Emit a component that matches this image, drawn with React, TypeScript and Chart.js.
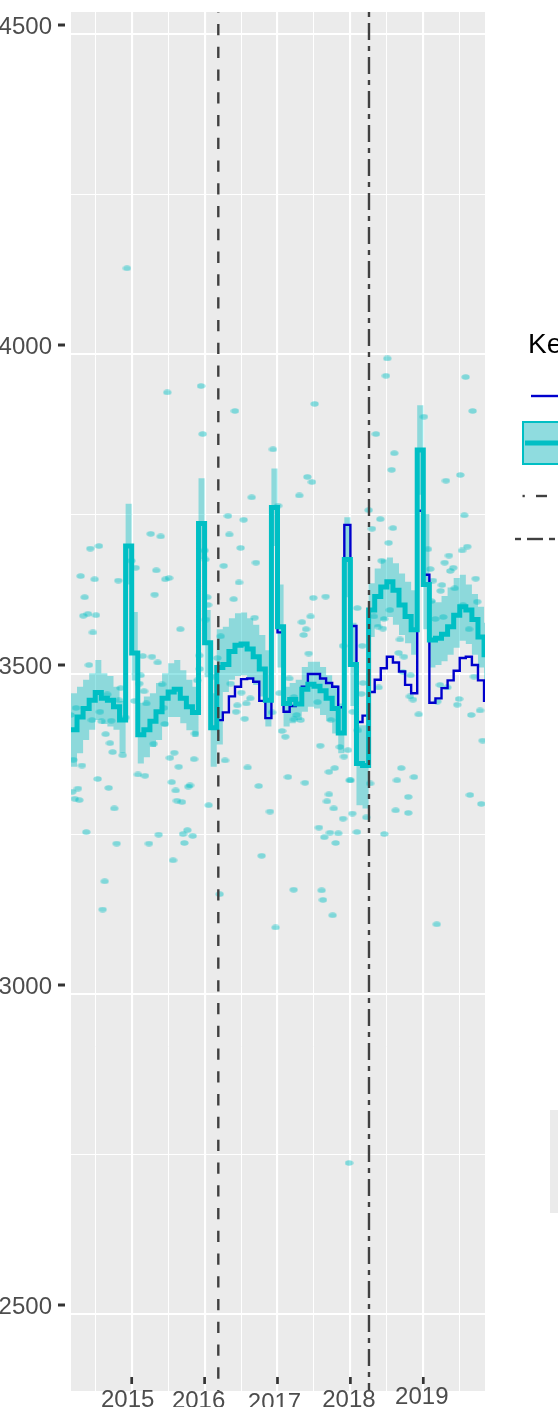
import React, { useEffect, useRef } from 'react';
import { Chart, registerables } from 'chart.js';

Chart.register(...registerables);

// first month of the monthly model series (March 2014), in fractional years
const firstMonth = 2014 + 2 / 12;

// fitted model (thick cyan line), one value per month
const fittedValues = [
  3413, 3433, 3446, 3459, 3471, 3462, 3459, 3449, 3428, 3700,
  3533, 3405, 3413, 3426, 3441, 3462, 3472, 3476, 3462, 3449,
  3440, 3735, 3549, 3416, 3510, 3515, 3535, 3545, 3547, 3539,
  3527, 3508, 3459, 3760, 3574, 3454, 3460, 3453, 3476, 3484,
  3481, 3474, 3462, 3446, 3408, 3679, 3515, 3360, 3357, 3600,
  3621, 3636, 3644, 3631, 3608, 3590, 3569, 3850, 3640, 3553,
  3556, 3562, 3574, 3592, 3605, 3600, 3585, 3558, 3530,
];

// counterfactual (thin blue line), one value per month
const counterfactualValues = [
  3413, 3433, 3446, 3459, 3471, 3462, 3459, 3449, 3428, 3700,
  3533, 3405, 3413, 3426, 3441, 3462, 3472, 3476, 3462, 3449,
  3440, 3735, 3549, 3416, 3428, 3440, 3465, 3480, 3492, 3493,
  3488, 3458, 3431, 3760, 3565, 3441, 3450, 3454, 3480, 3500,
  3500, 3493, 3486, 3480, 3448, 3733, 3575, 3425, 3435, 3472,
  3491, 3509, 3527, 3518, 3504, 3483, 3470, 3755, 3655, 3455,
  3462, 3478, 3490, 3505, 3525, 3527, 3514, 3490, 3458,
];

// interval around the fitted model
const upperValues = [
  3470, 3480, 3491, 3501, 3522, 3501, 3497, 3480, 3458, 3766,
  3597, 3455, 3465, 3470, 3486, 3501, 3517, 3522, 3506, 3491,
  3480, 3806, 3600, 3470, 3570, 3574, 3587, 3595, 3596, 3587,
  3577, 3561, 3537, 3821, 3640, 3480, 3486, 3491, 3511, 3519,
  3519, 3511, 3498, 3483, 3454, 3745, 3580, 3420, 3420, 3642,
  3665, 3679, 3682, 3673, 3657, 3644, 3631, 3920, 3750, 3615,
  3612, 3622, 3635, 3650, 3655, 3640, 3625, 3605, 3580,
];
const lowerValues = [
  3355, 3376, 3397, 3413, 3428, 3422, 3418, 3413, 3376, 3640,
  3490, 3360, 3370, 3386, 3397, 3418, 3433, 3433, 3423, 3412,
  3402, 3680, 3495, 3355, 3390, 3472, 3491, 3497, 3498, 3493,
  3483, 3465, 3418, 3700, 3510, 3418, 3423, 3428, 3441, 3449,
  3446, 3436, 3426, 3407, 3376, 3620, 3450, 3295, 3290, 3558,
  3574, 3584, 3589, 3577, 3561, 3548, 3530, 3780, 3570, 3510,
  3514, 3520, 3530, 3541, 3552, 3547, 3530, 3510, 3490,
];

// observed weekly values [year, value]
const observedPoints: [number, number][] = [
  [2014.432, 3696], [2014.551, 3700], [2014.300, 3653], [2014.492, 3648], [2014.355, 3620],
  [2014.336, 3591], [2014.400, 3594], [2014.510, 3592], [2014.469, 3565], [2014.816, 3646],
  [2014.995, 3677], [2015.055, 3666], [2015.261, 3719], [2015.398, 3715], [2015.337, 3662],
  [2015.461, 3648], [2015.512, 3650], [2015.315, 3624], [2015.667, 3570], [2015.488, 3940],
  [2015.951, 3950], [2015.974, 3875], [2016.001, 3693], [2016.010, 3679], [2016.037, 3620],
  [2016.047, 3608], [2016.019, 3585],
  [2016.417, 3911], [2016.938, 3851], [2017.510, 3922], [2017.409, 3808], [2017.473, 3800],
  [2017.299, 3779], [2016.646, 3776], [2017.007, 3763], [2016.321, 3747], [2016.536, 3741],
  [2016.339, 3718], [2016.495, 3697], [2016.262, 3669], [2016.705, 3674], [2016.472, 3643],
  [2016.399, 3617], [2017.491, 3619], [2017.661, 3621], [2016.687, 3588], [2017.455, 3590],
  [2017.336, 3581], [2017.391, 3570], [2017.359, 3561], [2016.221, 3559],
  [2018.506, 3993], [2018.488, 3966], [2019.581, 3964], [2019.677, 3911], [2019.009, 3902],
  [2018.351, 3875], [2018.602, 3845], [2018.566, 3819], [2019.311, 3802], [2019.507, 3811],
  [2018.251, 3756], [2019.562, 3748], [2018.410, 3742], [2018.296, 3727], [2018.584, 3728],
  [2018.525, 3705], [2018.429, 3677], [2019.352, 3685], [2019.293, 3674], [2019.411, 3666],
  [2019.370, 3661], [2019.531, 3693], [2019.603, 3699], [2019.719, 3649], [2019.431, 3634],
  [2019.256, 3639], [2019.238, 3630], [2019.133, 3646], [2019.064, 3695], [2019.096, 3664],
  [2018.095, 3603], [2018.543, 3600], [2018.461, 3586], [2018.379, 3574], [2018.447, 3571],
  [2019.164, 3586], [2019.274, 3589], [2019.544, 3608], [2019.740, 3613], [2019.627, 3570],
  [2018.680, 3554], [2019.110, 3614], [2018.323, 3590],
  [2014.414, 3514], [2014.236, 3447], [2014.163, 3436], [2014.565, 3441], [2014.455, 3428],
  [2014.588, 3426], [2014.720, 3427], [2014.665, 3468], [2014.826, 3459], [2014.849, 3478],
  [2014.918, 3432], [2014.643, 3406], [2014.702, 3392], [2014.739, 3378], [2014.877, 3373],
  [2014.199, 3366], [2014.318, 3357], [2014.185, 3316], [2014.263, 3321], [2014.218, 3305],
  [2014.281, 3303], [2014.534, 3336], [2014.685, 3322], [2014.761, 3290], [2014.377, 3253],
  [2014.794, 3235], [2014.630, 3176], [2014.602, 3132], [2015.151, 3528], [2015.278, 3527],
  [2015.357, 3518], [2015.123, 3498], [2015.104, 3485], [2015.169, 3473], [2015.036, 3458],
  [2015.200, 3454], [2015.416, 3484], [2015.443, 3447], [2015.453, 3422], [2015.302, 3391],
  [2015.086, 3343], [2015.182, 3341], [2015.525, 3369], [2015.584, 3377], [2015.645, 3355],
  [2015.549, 3331], [2015.604, 3318], [2015.621, 3302], [2015.690, 3300], [2015.776, 3324],
  [2015.800, 3326], [2015.855, 3367], [2015.868, 3407], [2015.927, 3529], [2015.933, 3508],
  [2015.900, 3490], [2015.370, 3249], [2015.237, 3235], [2015.704, 3250], [2015.763, 3256],
  [2015.837, 3247], [2015.722, 3236], [2015.567, 3209], [2016.056, 3295],
  [2016.174, 3525], [2016.139, 3496], [2016.358, 3485], [2016.503, 3471], [2016.627, 3462],
  [2016.572, 3454], [2016.448, 3451], [2016.431, 3441], [2016.550, 3430], [2017.428, 3532],
  [2017.899, 3544], [2017.162, 3493], [2017.025, 3470], [2017.226, 3464], [2017.551, 3456],
  [2016.925, 3440], [2017.264, 3436], [2017.226, 3429], [2017.318, 3428], [2017.734, 3428],
  [2017.062, 3411], [2017.107, 3402], [2017.587, 3388], [2017.857, 3386], [2017.912, 3371],
  [2017.967, 3381], [2016.280, 3365], [2016.591, 3354], [2017.144, 3339], [2016.742, 3325],
  [2017.377, 3330], [2017.706, 3347], [2017.785, 3353], [2017.991, 3334], [2017.706, 3312],
  [2017.679, 3301], [2017.771, 3290], [2017.899, 3274], [2016.897, 3285], [2017.569, 3260],
  [2017.720, 3252], [2017.834, 3251], [2017.642, 3245], [2017.798, 3236], [2016.783, 3216],
  [2016.207, 3156], [2017.222, 3163], [2017.606, 3162], [2017.624, 3147], [2017.757, 3123],
  [2016.975, 3104],
  [2018.163, 3544], [2018.662, 3533], [2018.735, 3527], [2018.827, 3498], [2018.721, 3503],
  [2018.173, 3486], [2018.388, 3479], [2018.150, 3469], [2018.817, 3465], [2018.858, 3460],
  [2019.192, 3457], [2019.229, 3483], [2019.329, 3479], [2019.695, 3496], [2019.490, 3461],
  [2019.466, 3452], [2018.937, 3437], [2019.658, 3436], [2019.778, 3443], [2018.031, 3441],
  [2018.104, 3412], [2019.815, 3396], [2018.698, 3353], [2018.639, 3334], [2018.872, 3339],
  [2018.794, 3308], [2018.004, 3334], [2018.269, 3329], [2018.026, 3282], [2018.218, 3276],
  [2018.621, 3287], [2018.794, 3283], [2019.640, 3311], [2019.795, 3297], [2018.090, 3253],
  [2018.465, 3250], [2019.185, 3109],
  [2014.935, 4134], [2017.981, 2736],
];

const yMajorTicks = [2500, 3000, 3500, 4000, 4500];
const yTickLabels = ['2500', '3000', '3500', '4000', '4500'];
const yMinorTicks = [2750, 3250, 3750, 4250];
const xMajorTicks = [2015, 2016, 2017, 2018, 2019];
const xTickLabels = ['2015', '2016', '2017', '2018', '2019'];
const xMinorTicks = [2014.5, 2015.5, 2016.5, 2017.5, 2018.5, 2019.5];

const dashedEventYear = 2016.188;
const dotDashEventYear = 2018.255;
const legendTitle = 'Key';

const CYAN = '#00BFC4';
const CYAN_FILL = 'rgba(0,191,196,0.4)';
const BLUE = '#0000CD';
const VLINE = '#404040';
const FONT = '"Liberation Sans", Arial, Helvetica, sans-serif';

const monthStarts = fittedValues
  .map((_, i) => firstMonth + i / 12)
  .concat([firstMonth + fittedValues.length / 12]);

const stepData = (values: number[]) =>
  monthStarts.map((x, i) => ({ x, y: values[Math.min(i, values.length - 1)] }));

// label nudges of the reference's axis text
const xLabelShift = [-4, -6, -3, -1.5, -1.5];
const xLabelDrop = [0, 0.7, 2.7, 0.3, -2.7];

const decorPlugin = {
  id: 'decor',
  beforeDraw(chart: any) {
    const { ctx, chartArea: a } = chart;
    ctx.save();
    ctx.fillStyle = '#FFFFFF';
    ctx.fillRect(0, 0, chart.width, chart.height);
    ctx.fillStyle = '#EBEBEB';
    ctx.fillRect(a.left, a.top, a.right - a.left, a.bottom - a.top);
    ctx.restore();
  },
  afterDatasetsDraw(chart: any) {
    const { ctx, chartArea: a } = chart;
    const xs = chart.scales.x;
    ctx.save();
    ctx.beginPath();
    ctx.rect(a.left, a.top, a.right - a.left, a.bottom - a.top);
    ctx.clip();
    ctx.strokeStyle = VLINE;
    ctx.lineWidth = 2.4;
    ctx.lineCap = 'butt';
    // dashed
    let px = xs.getPixelForValue(dashedEventYear);
    ctx.setLineDash([11.3, 11.47]);
    ctx.lineDashOffset = 10.87;
    ctx.beginPath();
    ctx.moveTo(px, a.top);
    ctx.lineTo(px, a.bottom);
    ctx.stroke();
    // dot-dash
    px = xs.getPixelForValue(dotDashEventYear);
    ctx.setLineDash([5, 6, 17, 6]);
    ctx.lineDashOffset = 0;
    ctx.beginPath();
    ctx.moveTo(px, a.top);
    ctx.lineTo(px, a.bottom);
    ctx.stroke();
    ctx.restore();
  },
  afterDraw(chart: any) {
    const { ctx, chartArea: a } = chart;
    const xs = chart.scales.x;
    const ys = chart.scales.y;
    ctx.save();
    ctx.font = `24px ${FONT}`;
    ctx.fillStyle = '#4D4D4D';
    ctx.strokeStyle = '#333333';
    ctx.textBaseline = 'alphabetic';
    ctx.textAlign = 'right';
    yMajorTicks.forEach((v, i) => {
      const py = ys.getPixelForValue(v);
      ctx.fillText(yTickLabels[i], 52, py);
      ctx.lineWidth = 3;
      ctx.beginPath();
      ctx.moveTo(58, py - 9);
      ctx.lineTo(65, py - 9);
      ctx.stroke();
    });
    ctx.textAlign = 'center';
    xMajorTicks.forEach((v, i) => {
      const px = xs.getPixelForValue(v);
      ctx.fillText(xTickLabels[i], px + xLabelShift[i], 1407 + xLabelDrop[i]);
      ctx.lineWidth = 2.7;
      ctx.beginPath();
      ctx.moveTo(px, a.bottom - 14);
      ctx.lineTo(px, a.bottom - 7);
      ctx.stroke();
    });

    // legend (cut off by the right edge)
    ctx.textAlign = 'left';
    ctx.fillStyle = '#000000';
    ctx.font = `28px ${FONT}`;
    ctx.fillText(legendTitle, 528, 353);

    ctx.lineCap = 'butt';
    ctx.strokeStyle = BLUE;
    ctx.lineWidth = 2.4;
    ctx.beginPath();
    ctx.moveTo(531, 396);
    ctx.lineTo(560, 396);
    ctx.stroke();

    ctx.fillStyle = '#8FDCDF';
    ctx.fillRect(522, 421, 40, 44);
    ctx.strokeStyle = CYAN;
    ctx.lineWidth = 2;
    ctx.strokeRect(523, 422, 40, 42);
    ctx.lineWidth = 5;
    ctx.beginPath();
    ctx.moveTo(525, 443);
    ctx.lineTo(560, 443);
    ctx.stroke();

    ctx.strokeStyle = VLINE;
    ctx.lineWidth = 2.4;
    const seg = (y: number, x0: number, x1: number) => {
      ctx.beginPath();
      ctx.moveTo(x0, y);
      ctx.lineTo(x1, y);
      ctx.stroke();
    };
    seg(496, 522.5, 524.8);
    seg(496, 536, 547);
    seg(539, 515, 521);
    seg(539, 527, 543);
    seg(539, 549, 555);

    ctx.fillStyle = '#EBEBEB';
    ctx.fillRect(550, 1110, 10, 103);
    ctx.restore();
  },
};

function makeDotImage() {
  const img = document.createElement('canvas');
  img.width = 9;
  img.height = 6;
  const c = img.getContext('2d');
  if (c) {
    c.fillStyle = 'rgba(0,191,196,0.46)';
    c.beginPath();
    c.ellipse(4.5, 3, 4.1, 2.8, 0, 0, Math.PI * 2);
    c.fill();
  }
  return img;
}

export default function App() {
  const ref = useRef<HTMLCanvasElement | null>(null);

  useEffect(() => {
    if (!ref.current) return;
    const dot = makeDotImage();
    const chart = new Chart(ref.current, {
      type: 'line',
      data: {
        datasets: [
          {
            type: 'scatter',
            label: 'observed',
            data: observedPoints.map(([x, y]) => ({ x, y })),
            pointStyle: dot as any,
            pointRadius: 4,
            pointBorderWidth: 0,
            backgroundColor: CYAN_FILL,
            borderColor: 'transparent',
            order: 5,
          } as any,
          {
            label: 'upper',
            data: stepData(upperValues),
            stepped: 'before',
            borderWidth: 0,
            borderColor: 'transparent',
            pointRadius: 0,
            fill: '+1',
            backgroundColor: CYAN_FILL,
            order: 4,
          },
          {
            label: 'lower',
            data: stepData(lowerValues),
            stepped: 'before',
            borderWidth: 0,
            borderColor: 'transparent',
            pointRadius: 0,
            fill: false,
            order: 4,
          },
          {
            label: 'counterfactual',
            data: stepData(counterfactualValues),
            stepped: 'before',
            borderColor: BLUE,
            borderWidth: 2.4,
            pointRadius: 0,
            fill: false,
            order: 2,
          },
          {
            label: 'fitted',
            data: stepData(fittedValues),
            stepped: 'before',
            borderColor: CYAN,
            borderWidth: 5,
            pointRadius: 0,
            fill: false,
            order: 1,
          },
        ],
      },
      options: {
        animation: false,
        responsive: false,
        devicePixelRatio: 1,
        events: [],
        layout: { padding: { left: 0, right: 73, top: 12, bottom: 0 } },
        plugins: {
          legend: { display: false },
          tooltip: { enabled: false },
          filler: { propagate: false },
        },
        scales: {
          x: {
            type: 'linear',
            min: 2014.1674,
            max: 2019.8464,
            afterBuildTicks: (s: any) => {
              s.ticks = [...xMinorTicks, ...xMajorTicks]
                .sort((p, q) => p - q)
                .map((value) => ({ value }));
            },
            afterFit: (s: any) => {
              s.height = 16;
            },
            ticks: { display: false },
            border: { display: false },
            grid: {
              drawTicks: false,
              color: '#FFFFFF',
              lineWidth: (c: any) =>
                c.tick && xMajorTicks.includes(c.tick.value) ? 2.1 : 1.0,
            },
          },
          y: {
            type: 'linear',
            min: 2379.7,
            max: 4534.4,
            afterBuildTicks: (s: any) => {
              s.ticks = [...yMinorTicks, ...yMajorTicks]
                .sort((p, q) => p - q)
                .map((value) => ({ value }));
            },
            afterFit: (s: any) => {
              s.width = 71;
            },
            ticks: { display: false },
            border: { display: false },
            grid: {
              drawTicks: false,
              color: '#FFFFFF',
              lineWidth: (c: any) =>
                c.tick && yMajorTicks.includes(c.tick.value) ? 2.1 : 1.0,
            },
          },
        },
      },
      plugins: [decorPlugin],
    } as any);
    return () => chart.destroy();
  }, []);

  return (
    <div style={{ position: 'absolute', left: 0, top: 0, width: 558, height: 1407 }}>
      <canvas ref={ref} width={558} height={1407} style={{ display: 'block' }} />
    </div>
  );
}
